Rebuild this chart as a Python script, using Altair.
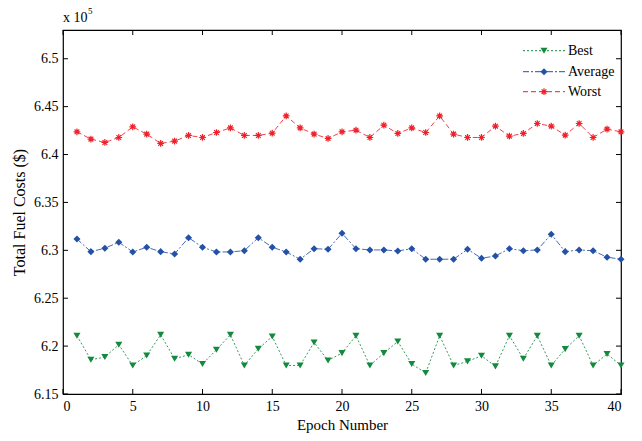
import altair as alt
import pandas as pd

epochs = list(range(1, 41))
best = [6.2108, 6.1857, 6.1886, 6.2014, 6.1798, 6.1902, 6.2118, 6.1868, 6.1910, 6.1813,
        6.1962, 6.2118, 6.1798, 6.1972, 6.2100, 6.1798, 6.1798, 6.2038, 6.1850, 6.1927,
        6.2108, 6.1798, 6.1927, 6.2048, 6.1813, 6.1719, 6.2108, 6.1798, 6.1840, 6.1899,
        6.1788, 6.2108, 6.1868, 6.2108, 6.1798, 6.1969, 6.2108, 6.1798, 6.1917, 6.1798]
average = [6.3118, 6.2986, 6.3022, 6.3084, 6.2983, 6.3032, 6.2986, 6.2962, 6.3132, 6.3032,
           6.2983, 6.2983, 6.2996, 6.3132, 6.3032, 6.2983, 6.2907, 6.3017, 6.3011, 6.3178,
           6.3017, 6.3004, 6.3004, 6.2993, 6.3017, 6.2907, 6.2907, 6.2907, 6.3011, 6.2917,
           6.2941, 6.3017, 6.2996, 6.3004, 6.3167, 6.2986, 6.3004, 6.2996, 6.2928, 6.2907]
worst = [6.4237, 6.4161, 6.4126, 6.4178, 6.4289, 6.4213, 6.4116, 6.4140, 6.4199, 6.4178,
         6.4230, 6.4278, 6.4199, 6.4199, 6.4223, 6.4403, 6.4278, 6.4213, 6.4168, 6.4237,
         6.4254, 6.4178, 6.4306, 6.4220, 6.4278, 6.4230, 6.4403, 6.4213, 6.4178, 6.4178,
         6.4296, 6.4192, 6.4220, 6.4324, 6.4296, 6.4202, 6.4324, 6.4178, 6.4265, 6.4237]
series_names = ["Best", "Average", "Worst"]
xticks = [0, 5, 10, 15, 20, 25, 30, 35, 40]
yticks = [6.15, 6.2, 6.25, 6.3, 6.35, 6.4, 6.45, 6.5]

FONT = "Liberation Serif"
W, H = 558, 364
xs = alt.Scale(domain=[0, 40], nice=False, zero=False)
ys = alt.Scale(domain=[6.15, 6.53], nice=False, zero=False)
XAX = alt.Axis(title="Epoch Number", values=xticks, format="d", grid=False, domain=False, ticks=False,
               labelPadding=5, titlePadding=4, titleFontSize=15)
YAX = alt.Axis(title="Total Fuel Costs ($)", values=yticks, format=".3~f", grid=False, domain=False,
               ticks=False, labelPadding=5, titlePadding=6, titleFontSize=16)

styles = {
    "Best": dict(color="#138a3e", dash=[2, 2], shape="triangle-down", size=50, filled=True),
    "Average": dict(color="#2451a6", dash=[6, 2, 2, 2], shape="diamond", size=50, filled=True),
    "Worst": dict(color="#f0202a", dash=[5, 3], shape="M-1,0L1,0M0,-1L0,1M-0.7,-0.7L0.7,0.7M-0.7,0.7L0.7,-0.7", size=45, filled=False),
}
values = {"Best": best, "Average": average, "Worst": worst}

layers = []
for name in series_names:
    st = styles[name]
    df = pd.DataFrame({"epoch": epochs, "cost": values[name]})
    xenc = alt.X("epoch:Q", scale=xs, axis=XAX)
    yenc = alt.Y("cost:Q", scale=ys, axis=YAX)
    line = alt.Chart(df).mark_line(color=st["color"], strokeWidth=1, strokeDash=st["dash"], opacity=0.85).encode(x=xenc, y=yenc)
    pts = alt.Chart(df).mark_point(color=st["color"], shape=st["shape"], size=st["size"], filled=st["filled"],
                                   opacity=1, strokeWidth=1.2).encode(x=xenc, y=yenc)
    layers += [line, pts]

# inward ticks (MATLAB style box)
ydf = pd.DataFrame({"cost": yticks})
xdf = pd.DataFrame({"epoch": xticks})
tk = dict(color="black", strokeWidth=1)
layers.append(alt.Chart(ydf).mark_rule(**tk).encode(y=alt.Y("cost:Q", scale=ys, axis=YAX), x=alt.value(0), x2=alt.value(5)))
layers.append(alt.Chart(ydf).mark_rule(**tk).encode(y=alt.Y("cost:Q", scale=ys, axis=YAX), x=alt.value(W), x2=alt.value(W - 5)))
layers.append(alt.Chart(xdf).mark_rule(**tk).encode(x=alt.X("epoch:Q", scale=xs, axis=XAX), y=alt.value(H), y2=alt.value(H - 5)))
layers.append(alt.Chart(xdf).mark_rule(**tk).encode(x=alt.X("epoch:Q", scale=xs, axis=XAX), y=alt.value(0), y2=alt.value(5)))

# legend
leg_y = {"Best": 20.7, "Average": 41.7, "Worst": 61.7}
one = pd.DataFrame({"a": [0]})
for name in series_names:
    st = styles[name]
    yy = leg_y[name]
    layers.append(alt.Chart(one).mark_rule(color=st["color"], strokeWidth=1, strokeDash=st["dash"]).encode(
        x=alt.value(460), x2=alt.value(502), y=alt.value(yy)))
    layers.append(alt.Chart(one).mark_point(color=st["color"], shape=st["shape"], size=st["size"], filled=st["filled"],
                                            opacity=1, strokeWidth=1.2).encode(x=alt.value(481), y=alt.value(yy)))
    layers.append(alt.Chart(pd.DataFrame({"t": [name]})).mark_text(font=FONT, fontSize=14, align="left",
                                                                   baseline="middle", color="black").encode(
        text="t:N", x=alt.value(505), y=alt.value(yy)))

# exponent label
layers.append(alt.Chart(pd.DataFrame({"t": ["x 10"]})).mark_text(font=FONT, fontSize=14, align="left",
                                                                  baseline="alphabetic", color="black").encode(
    text="t:N", x=alt.value(0), y=alt.value(-8)))
layers.append(alt.Chart(pd.DataFrame({"t": ["5"]})).mark_text(font=FONT, fontSize=9, align="left",
                                                               baseline="alphabetic", color="black").encode(
    text="t:N", x=alt.value(25), y=alt.value(-16)))

chart = alt.layer(*layers).properties(
    width=W, height=H,
    autosize=alt.AutoSizeParams(type="none"),
    padding={"left": 63, "top": 30, "right": 21, "bottom": 47},
    background="white",
).configure_view(stroke="black", strokeWidth=1.2).configure_axis(
    labelFont=FONT, titleFont=FONT, labelFontSize=14, titleFontSize=14, labelColor="black", titleColor="black",
    titleFontWeight="normal"
)

chart.save("out.html", embed_options={"renderer": "svg", "actions": False})
